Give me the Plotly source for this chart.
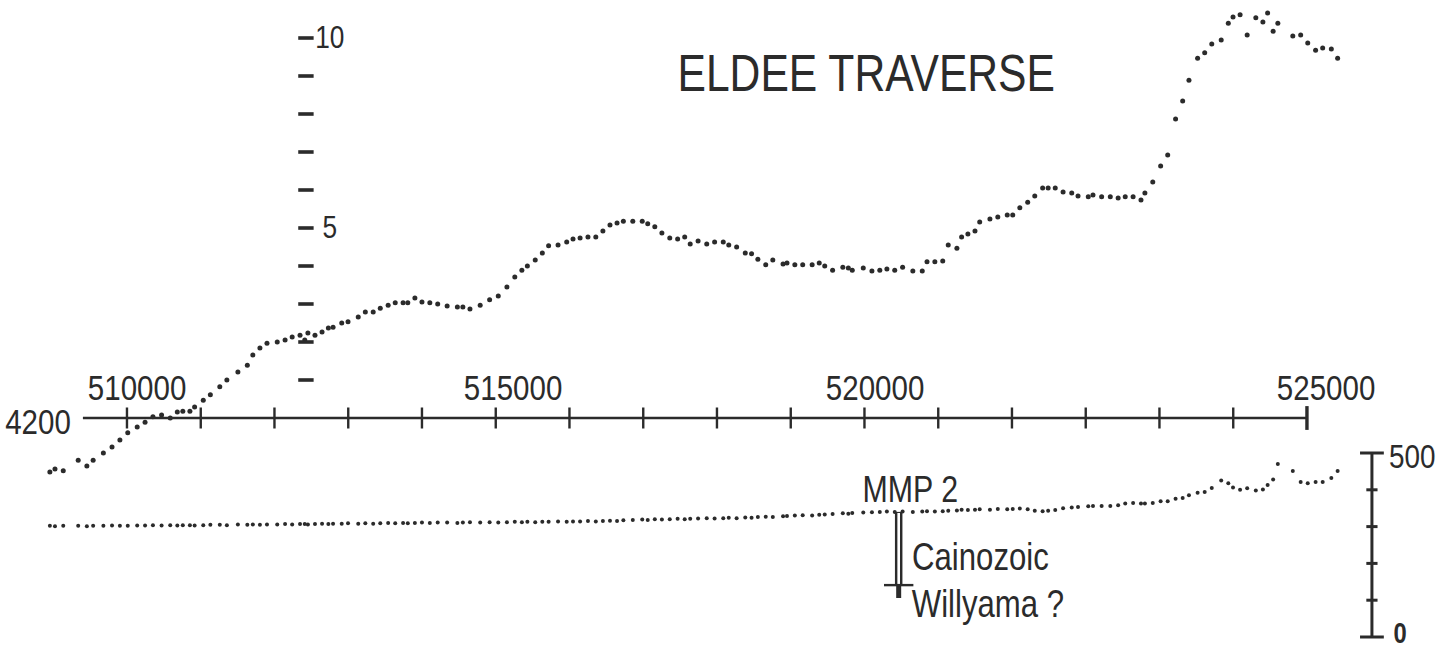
import plotly.graph_objects as go

# ---------------- data ----------------
# station eastings (m) shared by both profiles
easting = [
    509020, 509085, 509190, 509380, 509490, 509570, 509700, 509810, 509910, 510010,
    510130, 510230, 510330, 510440, 510550, 510640, 510710, 510800, 510860, 510970,
    511060, 511180, 511270, 511410, 511530, 511600, 511690, 511780, 511910, 512010,
    512100, 512200, 512300, 512260, 512390, 512480, 512560, 512620, 512730, 512810,
    512940, 513030, 513130, 513220, 513320, 513410, 513510, 513570, 513660, 513750,
    513850, 513950, 514070, 514200, 514270, 514360, 514490, 514610, 514720, 514830,
    514930, 515020, 515090, 515190, 515280, 515360, 515480, 515590, 515670, 515760,
    515860, 515960, 516050, 516140, 516230, 516310, 516430, 516550, 516620, 516710,
    516800, 516900, 517000, 517090, 517160, 517260, 517370, 517470, 517580, 517650,
    517750, 517860, 517940, 518020, 518120, 518210, 518340, 518390, 518490, 518590,
    518710, 518800, 518870, 518970, 519100, 519170, 519220, 519360, 519470, 519570,
    519660, 519760, 519860, 519990, 520110, 520170, 520270, 520370, 520440, 520550,
    520610, 520690, 520780, 520840, 520970, 521070, 521190, 521260, 521350, 521450,
    521540, 521640, 521710, 521800, 521900, 522010, 522090, 522220, 522280, 522390,
    522500, 522600, 522690, 522790, 522890, 522940, 523040, 523140, 523230, 523330,
    523420, 523500, 523610, 523700, 523790, 523910, 524000, 524060, 524150, 524240,
    524350, 524440, 524500, 524570, 524630, 524820, 524920, 525010, 525110, 525200,
    525310, 525390,
]

# gravity (mGal, relative)
gravity = [
    -1.42, -1.34, -1.39, -1.11, -1.26, -1.11, -0.92, -0.76, -0.58, -0.39,
    -0.24, -0.11, 0.03, 0.08, 0.00, 0.16, 0.18, 0.18, 0.29, 0.47,
    0.61, 0.82, 1.00, 1.21, 1.39, 1.66, 1.84, 1.97, 2.00, 2.05,
    2.13, 2.18, 2.24, 2.05, 2.18, 2.26, 2.37, 2.39, 2.50, 2.53,
    2.66, 2.79, 2.79, 2.89, 2.97, 3.03, 3.03, 3.03, 3.16, 3.05,
    3.03, 3.00, 2.95, 2.92, 2.92, 2.87, 2.97, 3.11, 3.21, 3.45,
    3.71, 3.89, 4.00, 4.16, 4.34, 4.53, 4.55, 4.63, 4.71, 4.74,
    4.76, 4.76, 4.92, 5.08, 5.13, 5.18, 5.18, 5.18, 5.11, 5.03,
    4.87, 4.74, 4.71, 4.76, 4.58, 4.66, 4.58, 4.63, 4.63, 4.55,
    4.50, 4.34, 4.32, 4.18, 4.03, 4.16, 4.05, 4.08, 4.03, 4.03,
    4.03, 4.08, 4.00, 3.89, 3.97, 3.95, 3.89, 3.95, 3.87, 3.89,
    3.92, 3.89, 3.97, 3.87, 3.87, 4.11, 4.11, 4.13, 4.55, 4.47,
    4.76, 4.84, 4.92, 5.16, 5.24, 5.29, 5.34, 5.34, 5.53, 5.68,
    5.84, 6.05, 6.05, 6.05, 5.95, 5.92, 5.84, 5.82, 5.87, 5.82,
    5.82, 5.79, 5.82, 5.82, 5.74, 5.92, 6.21, 6.63, 6.92, 7.87,
    8.34, 8.89, 9.47, 9.61, 9.84, 9.95, 10.39, 10.55, 10.61, 10.08,
    10.53, 10.42, 10.66, 10.18, 10.39, 10.05, 10.08, 9.87, 9.68, 9.74,
    9.71, 9.47,
]

# topographic elevation (m)
elevation = [
    302, 301, 302, 302, 301, 302, 302, 303, 302, 302,
    303, 303, 304, 303, 304, 303, 304, 304, 303, 304,
    305, 305, 304, 306, 305, 306, 305, 306, 306, 307,
    306, 307, 306, 307, 307, 308, 307, 308, 308, 309,
    308, 309, 308, 309, 310, 309, 310, 309, 310, 311,
    310, 311, 311, 310, 311, 312, 311, 312, 311, 312,
    313, 312, 313, 312, 313, 313, 314, 313, 314, 314,
    315, 314, 315, 316, 315, 317, 318, 319, 318, 320,
    319, 320, 321, 320, 321, 322, 323, 322, 323, 324,
    323, 325, 324, 326, 327, 326, 328, 329, 330, 331,
    330, 332, 333, 334, 336, 335, 337, 338, 339, 340,
    341, 340, 341, 340, 341, 342, 341, 342, 343, 344,
    346, 345, 346, 347, 346, 348, 347, 348, 349, 347,
    343, 342, 343, 345, 350, 352, 353, 355, 356, 356,
    356, 358, 363, 364, 363, 363, 364, 369, 369, 376,
    378, 385, 392, 394, 405, 425, 418, 406, 400, 404,
    398, 401, 413, 428, 470, 451, 421, 418, 421, 421,
    432, 451,
]

# traverse axis
axis_start, axis_end = 509440, 525000
axis_ticks = [510000, 510938, 511875, 512813, 513750, 514688, 515625, 516563,
              517500, 518438, 519375, 520313, 521250, 522188, 523125, 524063]
x_labels = [510000, 515000, 520000, 525000]
x_label_shift = [10, -7, -39, 19]
line_label = "4200"

# gravity scale
g_ticks = [1, 2, 3, 4, 5, 6, 7, 8, 9, 10]
g_labels = {10: "10", 5: "5"}
g_scale_x = 512275

# elevation scale bar
elev_bar_x = 525826
elev_bar = [0, 500]
elev_ticks = [100, 200, 300, 400]

# drill hole MMP 2
hole_name = "MMP 2"
hole_x = 519810
hole_collar = 340
hole_cainozoic_base = 141
hole_bottom = 106

INK = "#2b2b2b"
FONT = "Liberation Sans, Arial, sans-serif"

fig = go.Figure()

# gravity profile
fig.add_trace(go.Scatter(x=easting, y=gravity, mode="markers",
                         marker=dict(size=5, color=INK), yaxis="y"))
# elevation profile
fig.add_trace(go.Scatter(x=easting, y=elevation, mode="markers",
                         marker=dict(size=4, color=INK), yaxis="y2"))

# horizontal traverse axis
fig.add_trace(go.Scatter(x=[axis_start, axis_end], y=[0, 0], mode="lines",
                         line=dict(color=INK, width=2.6), yaxis="y"))
fig.add_trace(go.Scatter(x=axis_ticks, y=[0] * len(axis_ticks), mode="markers",
                         marker=dict(symbol="line-ns", size=15,
                                     line=dict(color=INK, width=2.4)), yaxis="y"))
fig.add_trace(go.Scatter(x=[axis_end], y=[0], mode="markers",
                         marker=dict(symbol="line-ns", size=17,
                                     line=dict(color=INK, width=3.4)), yaxis="y"))

# gravity scale dashes
fig.add_trace(go.Scatter(x=[g_scale_x] * len(g_ticks), y=g_ticks, mode="markers",
                         marker=dict(symbol="line-ew", size=11,
                                     line=dict(color=INK, width=3.6)), yaxis="y"))

# elevation scale bar
fig.add_trace(go.Scatter(x=[elev_bar_x, elev_bar_x], y=elev_bar, mode="lines",
                         line=dict(color=INK, width=3), yaxis="y2"))
fig.add_trace(go.Scatter(x=[elev_bar_x] * 2, y=elev_bar, mode="markers",
                         marker=dict(symbol="line-ew", size=17,
                                     line=dict(color=INK, width=3)), yaxis="y2"))
fig.add_trace(go.Scatter(x=[elev_bar_x] * len(elev_ticks), y=elev_ticks, mode="markers",
                         marker=dict(symbol="line-ew", size=8,
                                     line=dict(color=INK, width=3)), yaxis="y2"))

# drill hole: double line for Cainozoic
fig.add_trace(go.Scatter(x=[hole_x, hole_x], y=[hole_collar, hole_cainozoic_base],
                         mode="lines", line=dict(color=INK, width=7.5), yaxis="y2"))
fig.add_trace(go.Scatter(x=[hole_x, hole_x], y=[hole_collar - 3, hole_cainozoic_base + 2],
                         mode="lines", line=dict(color="white", width=2.6), yaxis="y2"))
fig.add_trace(go.Scatter(x=[hole_x, hole_x], y=[hole_cainozoic_base, hole_bottom],
                         mode="lines", line=dict(color=INK, width=5), yaxis="y2"))
fig.add_trace(go.Scatter(x=[hole_x], y=[hole_cainozoic_base], mode="markers",
                         marker=dict(symbol="line-ew", size=21,
                                     line=dict(color=INK, width=2.4)), yaxis="y2"))


def txt(size, bold=False):
    return dict(family=FONT, size=size, color=INK, weight="bold" if bold else "normal")


ann = []
# title
ann.append(dict(x=0.595, y=0.888, xref="paper", yref="paper", text="ELDEE TRAVERSE",
                showarrow=False, font=txt(52), xanchor="center", yanchor="middle"))
# traverse axis labels
for v, s in zip(x_labels, x_label_shift):
    ann.append(dict(x=v, y=0, xref="x", yref="y", text=str(v), showarrow=False,
                    xshift=s, yshift=31, xanchor="center", yanchor="middle", font=txt(36)))
ann.append(dict(x=axis_start, y=0, xref="x", yref="y", text=line_label, showarrow=False,
                xanchor="center", yanchor="middle", xshift=-45, yshift=-3, font=txt(36)))
# gravity labels
for v, t in g_labels.items():
    ann.append(dict(x=g_scale_x, y=v, xref="x", yref="y", text=t, showarrow=False,
                    xanchor="center", yanchor="middle", xshift=24,
                    yshift=1, font=txt(32)))
# elevation bar labels
ann.append(dict(x=elev_bar_x, y=elev_bar[1], xref="x", yref="y2", text=str(elev_bar[1]),
                showarrow=False, xanchor="center", yanchor="middle", xshift=41, yshift=-3,
                font=txt(34)))
ann.append(dict(x=elev_bar_x, y=elev_bar[0], xref="x", yref="y2", text=str(elev_bar[0]),
                showarrow=False, xanchor="center", yanchor="middle", xshift=28, yshift=4,
                font=txt(29, bold=True)))
# drill hole labels
ann.append(dict(x=hole_x, y=hole_collar, xref="x", yref="y2", text=hole_name, showarrow=False,
                xanchor="center", yanchor="middle", xshift=12, yshift=22, font=txt(37)))
ann.append(dict(x=hole_x, y=hole_collar, xref="x", yref="y2", text="Cainozoic", showarrow=False,
                xanchor="center", yanchor="middle", xshift=82, yshift=-45, font=txt(38)))
ann.append(dict(x=hole_x, y=hole_cainozoic_base, xref="x", yref="y2", text="Willyama ?",
                showarrow=False, xanchor="center", yanchor="middle", xshift=89, yshift=-19,
                font=txt(38)))

fig.update_layout(
    width=1455, height=652,
    margin=dict(l=0, r=0, t=0, b=0),
    paper_bgcolor="white", plot_bgcolor="white",
    showlegend=False,
    xaxis=dict(range=[508386, 526882], visible=False),
    yaxis=dict(range=[-6.158, 11.0], visible=False),
    yaxis2=dict(range=[-40.76, 1730.98], visible=False, overlaying="y"),
    annotations=ann,
)

# narrow the stencil-style lettering (like a condensed drafting font)
narrow_css = (
    "var s=document.createElement('style');"
    "s.textContent='.annotation-text{transform:scaleX(0.82);"
    "transform-box:fill-box;transform-origin:center;}';"
    "document.head.appendChild(s);"
)

fig.write_html("out.html", post_script=narrow_css)
